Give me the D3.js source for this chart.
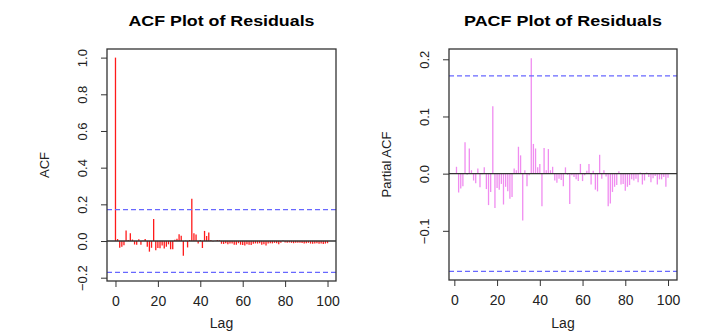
<!DOCTYPE html>
<html>
<head>
<meta charset="utf-8">
<script src="https://cdn.jsdelivr.net/npm/d3@7"></script>
<style>
  body { margin: 0; background: #fff; }
  svg { font-family: "Liberation Sans", Arial, sans-serif; }
</style>
</head>
<body>
<div id="charts"></div>
<script>
// acf values, lag 0..100
var acfValues = [1.0, 0.011, -0.037, -0.031, -0.023, 0.057, 0.006, 0.043, 0.008, -0.019,
    -0.02, 0.009, -0.02, 0.002, 0.011, -0.031, -0.058, -0.037, 0.12, -0.05,
    -0.038, -0.04, -0.024, -0.041, -0.031, -0.018, -0.045, -0.045, 0.007, 0.013,
    0.037, 0.029, -0.08, 0.002, -0.035, 0.005, 0.23, 0.043, 0.036, -0.014,
    0.006, -0.038, 0.055, 0.028, 0.047, 0.005, -0.003, 0.002, 0.006, 0.004,
    -0.015, -0.016, -0.012, -0.018, -0.014, -0.013, -0.02, -0.021, -0.012, -0.02,
    -0.022, -0.024, -0.018, -0.02, -0.022, -0.015, -0.013, -0.014, -0.012, -0.02,
    -0.018, -0.024, -0.014, -0.012, -0.013, -0.01, -0.012, -0.018, -0.01, 0.003,
    -0.008, -0.01, -0.008, -0.01, -0.012, -0.009, -0.01, -0.009, -0.011, -0.013,
    -0.012, -0.01, -0.014, -0.015, -0.014, -0.012, -0.015, -0.014, -0.016, -0.014,
    -0.012]

// pacf values, lag 1..100
var pacfValues = [0.012, -0.033, -0.026, -0.022, 0.055, -0.002, 0.044, 0.006, -0.012, -0.017,
    0.009, -0.024, -0.001, 0.011, -0.027, -0.055, -0.032, 0.118, -0.06, -0.025,
    -0.028, -0.018, -0.054, -0.023, -0.031, -0.044, -0.041, 0.009, 0.006, 0.047,
    0.032, -0.082, 0.006, -0.022, -0.003, 0.202, 0.052, 0.044, 0.011, 0.017,
    -0.057, 0.045, 0.006, 0.043, 0.006, 0.012, -0.012, -0.016, -0.009, -0.011,
    -0.022, 0.011, -0.002, -0.053, -0.003, -0.006, -0.01, -0.013, 0.017, -0.013,
    -0.003, 0.005, 0.017, -0.019, 0.005, -0.028, -0.031, 0.033, -0.009, 0.006,
    -0.005, -0.057, -0.052, -0.032, -0.023, -0.02, 0.004, -0.019, -0.018, -0.03,
    -0.023, -0.02, -0.01, -0.012, -0.009, -0.015, 0.002, -0.019, -0.012, 0.002,
    -0.006, -0.015, -0.008, -0.004, -0.019, -0.01, -0.01, -0.006, -0.023, -0.007]

var confLimit = 0.171
var xTicks = [0, 20, 40, 60, 80, 100]
var acfTicks = [-0.2, 0.0, 0.2, 0.4, 0.6, 0.8, 1.0]
var pacfTicks = [-0.1, 0.0, 0.1, 0.2]

width = 706
height = 336

var svg = d3.select("#charts").append("svg")
    .attr("width", width).attr("height", height)

drawPanel({
    left: 107, right: 336, top: 49, bottom: 281,
    xDomain: [-4, 104], yDomain: [-0.218, 1.047],
    data: acfValues.map(function (v, i) { return { lag: i, value: v } }),
    yTicks: acfTicks, color: "#ff1a1a",
    title: "ACF Plot of Residuals", titleLen: 186, yLabel: "ACF"
})

drawPanel({
    left: 449, right: 677, top: 49, bottom: 280,
    xDomain: [-2.5, 104.2], yDomain: [-0.186, 0.218],
    data: pacfValues.map(function (v, i) { return { lag: i + 1, value: v } }),
    yTicks: pacfTicks, color: "#f08cf0",
    title: "PACF Plot of Residuals", titleLen: 198, yLabel: "Partial ACF"
})

function drawPanel(p) {
    var x = d3.scaleLinear().domain(p.xDomain).range([p.left, p.right])
    var y = d3.scaleLinear().domain(p.yDomain).range([p.bottom, p.top])
    var g = svg.append("g")
    var cx = (p.left + p.right) / 2

    // spikes
    g.selectAll("line.spike")
        .data(p.data)
        .enter()
        .append("line")
        .attr("class", "spike")
        .attr("x1", function (d) { return x(d.lag) })
        .attr("x2", function (d) { return x(d.lag) })
        .attr("y1", y(0))
        .attr("y2", function (d) { return y(d.value) })
        .attr("stroke", p.color)
        .attr("stroke-width", 1.3)

    // zero line
    g.append("line")
        .attr("x1", p.left).attr("x2", p.right)
        .attr("y1", y(0)).attr("y2", y(0))
        .attr("stroke", "#333").attr("stroke-width", 1.3)

    // confidence bounds
    g.selectAll("line.ci")
        .data([confLimit, -confLimit])
        .enter()
        .append("line")
        .attr("x1", p.left).attr("x2", p.right)
        .attr("y1", function (d) { return y(d) })
        .attr("y2", function (d) { return y(d) })
        .attr("stroke", "#6868ff")
        .attr("stroke-width", 1.3)
        .attr("stroke-dasharray", "5,3")

    // box
    g.append("rect")
        .attr("x", p.left).attr("y", p.top)
        .attr("width", p.right - p.left).attr("height", p.bottom - p.top)
        .attr("fill", "none").attr("stroke", "#333").attr("stroke-width", 1.3)

    // x axis
    var xAxis = g.append("g")
        .attr("transform", "translate(0," + p.bottom + ")")
        .call(d3.axisBottom(x).tickValues(xTicks).tickSize(6).tickPadding(9).tickSizeOuter(0))
    xAxis.select(".domain").remove()
    xAxis.selectAll("line").attr("stroke", "#333")
    xAxis.selectAll("text").attr("font-size", 14).attr("fill", "#222")
        .attr("font-family", "Liberation Sans, Arial, sans-serif")

    // y axis, labels rotated like R
    var yAxis = g.append("g")
        .attr("transform", "translate(" + p.left + ",0)")
        .call(d3.axisLeft(y).tickValues(p.yTicks).tickSize(6).tickFormat(d3.format(".1f")))
    yAxis.select(".domain").remove()
    yAxis.selectAll("line").attr("stroke", "#333")
    yAxis.selectAll("text")
        .attr("x", null).attr("dy", null)
        .attr("font-size", 13).attr("fill", "#222")
        .attr("font-family", "Liberation Sans, Arial, sans-serif")
        .attr("text-anchor", "middle")
        .attr("transform", "translate(-20.5,0) rotate(-90)")

    // title
    g.append("text")
        .attr("x", cx).attr("y", 26)
        .attr("text-anchor", "middle")
        .attr("font-weight", "bold").attr("font-size", 15)
        .attr("textLength", p.titleLen).attr("lengthAdjust", "spacingAndGlyphs")
        .text(p.title)

    g.append("text")
        .attr("x", cx).attr("y", 328)
        .attr("text-anchor", "middle")
        .attr("font-size", 14).attr("fill", "#222")
        .text("Lag")

    g.append("text")
        .attr("transform", "translate(" + (p.left - 58) + "," + ((p.top + p.bottom) / 2) + ") rotate(-90)")
        .attr("text-anchor", "middle")
        .attr("font-size", 13).attr("fill", "#222")
        .text(p.yLabel)
}
</script>
</body>
</html>
